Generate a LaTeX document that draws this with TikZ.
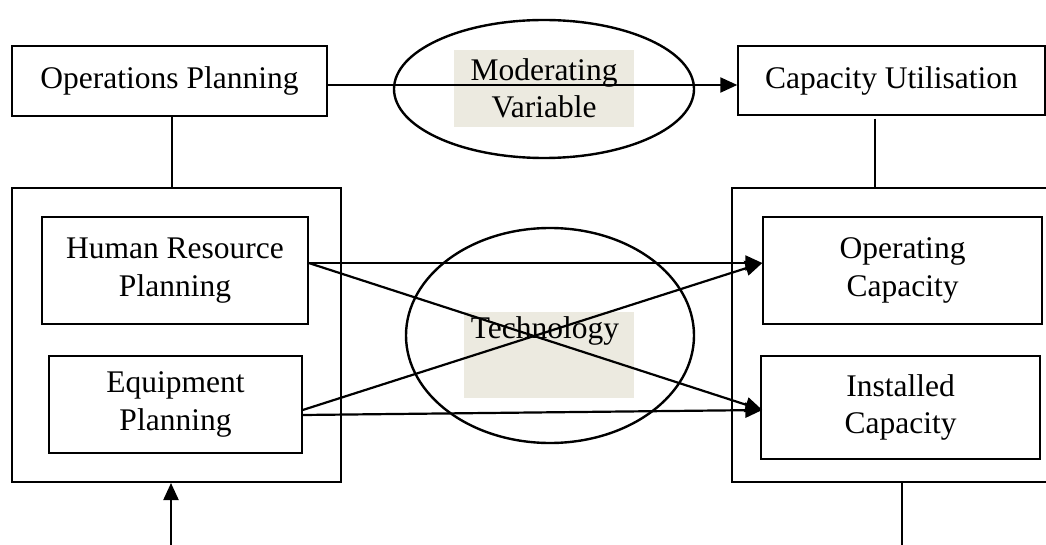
\documentclass[tikz,border=0pt]{standalone}
\usepackage{fontspec}
\setmainfont{Liberation Serif}
\usetikzlibrary{shapes.geometric,arrows.meta,calc}
\definecolor{shadecol}{RGB}{236,234,224}
\begin{document}
\begin{tikzpicture}[x=1pt,y=-1pt,
  txt/.style={font=\fontsize{31.5}{37.5}\selectfont, align=center},
  box/.style={draw, line width=1.4pt, inner sep=0pt, txt},
  outer/.style={draw, line width=2pt, inner sep=0pt},
  oval/.style={draw, ellipse, line width=2.4pt, inner sep=0pt},
  shadebox/.style={fill=shadecol, inner sep=0pt},
  lbl/.style={inner sep=0pt, txt},
  link/.style={line width=1.6pt},
  arr/.style={line width=2.2pt, -{Triangle[length=17pt,width=15pt]}}]
\useasboundingbox (0,0) rectangle (1046,545);

% shaded label backgrounds
\node[shadebox, minimum width=180pt, minimum height=77pt] (modbg) at (544,88.5) {};
\node[shadebox, minimum width=170pt, minimum height=86pt] (techbg) at (549,355) {};
\node[lbl] (modlbl) at (544,88.5) {Moderating\\Variable};
\node[lbl] (techlbl) at (545,331) {Technology};

% outer boxes
\node[outer, minimum width=329pt, minimum height=294pt] (lbig) at (176.5,335) {};
\node[outer, minimum width=318pt, minimum height=294pt] (rbig) at (891,335) {};

% boxes
\node[box, minimum width=315pt, minimum height=70pt] (op) at (169.5,81) {Operations Planning};
\node[box, minimum width=307pt, minimum height=69pt] (cap) at (891.5,80.5) {Capacity Utilisation};
\node[box, minimum width=266pt, minimum height=107pt] (hr) at (175,270.5) {Human Resource\\Planning};
\node[box, minimum width=253pt, minimum height=97pt] (eq) at (175.5,404.5) {Equipment\\Planning};
\node[box, minimum width=279pt, minimum height=107pt] (opc) at (902.5,270.5) {Operating\\Capacity};
\node[box, minimum width=279pt, minimum height=103pt] (inst) at (900.5,407.5) {Installed\\Capacity};

% ellipses
\node[oval, minimum width=300pt, minimum height=138pt] (mod) at (544,89) {};
\node[oval, minimum width=288pt, minimum height=215pt] (tech) at (550,335.5) {};

% vertical links
\draw[link] ($(op.south)+(2.5,0)$) -- ($(lbig.north)+(-4.5,0)$);
\draw[link] ($(cap.south)+(-16.5,3)$) -- ($(rbig.north)+(-16,0)$);

% top arrow
\draw[arr] ($(op.east)+(0,4)$) -- ($(cap.west)+(0,4.5)$);

% cross arrows
\draw[arr] ($(hr.east)+(0,-7.5)$) -- ($(opc.west)+(0,-7.5)$);
\draw[arr] ($(hr.east)+(0,-7.5)$) -- ($(inst.west)+(2,2.5)$);
\draw[arr] ($(eq.east)+(0,5.5)$) -- ($(opc.west)+(0,-7.5)$);
\draw[arr] ($(eq.east)+(0,10.5)$) -- ($(inst.west)+(2,2.5)$);

% bottom connectors
\coordinate (lin) at (171,545);
\coordinate (rout) at (902,545);
\draw[arr] (lin) -- (lin |- lbig.south);
\draw[link] (rout |- rbig.south) -- (rout);
\end{tikzpicture}
\end{document}
